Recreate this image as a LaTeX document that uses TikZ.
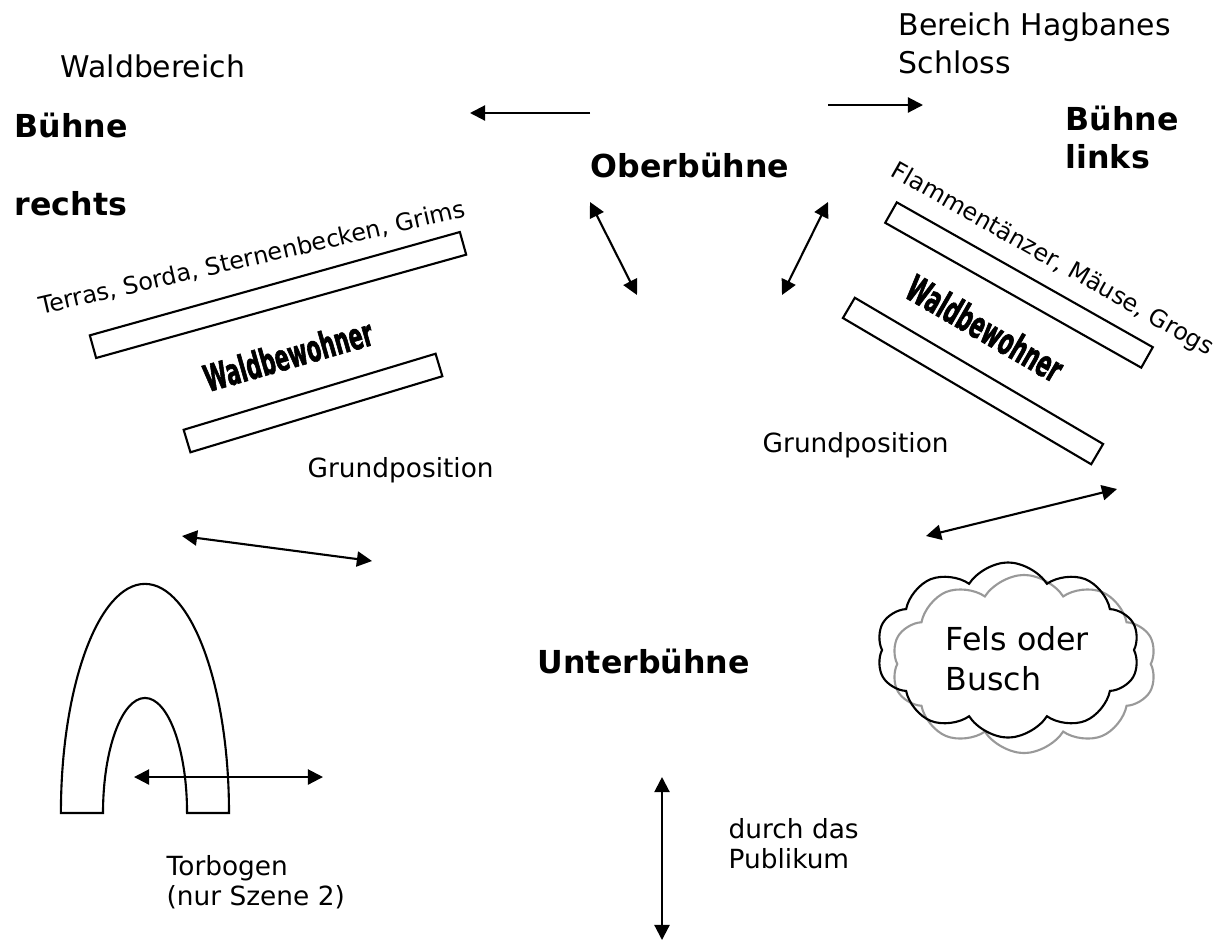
\documentclass[tikz,border=0pt]{standalone}
\usepackage{fontspec}
\setmainfont{DejaVu Sans}
\newfontfamily\woodfont{DejaVu Sans}[FakeStretch=0.56, BoldFeatures={FakeBold=1.5}]
\usetikzlibrary{arrows.meta,shapes.symbols}
\tikzset{
  area/.style={inner sep=0pt, anchor=base west, align=left, font=\fontsize{8.5}{10.8}\selectfont},
  stage/.style={inner sep=0pt, anchor=base west, align=left, font=\fontsize{9}{10.8}\selectfont\bfseries},
  small/.style={inner sep=0pt, anchor=base west, align=left, font=\fontsize{7.5}{8.4}\selectfont},
  cast/.style={inner sep=0pt, font=\fontsize{6.8}{8}\selectfont},
  wood/.style={inner sep=0pt, font=\fontsize{10.5}{12}\woodfont\bfseries},
  bar/.style={draw, line width=0.6pt, inner sep=0pt, minimum height=0.235cm},
  puff/.style={cloud, cloud puffs=10, cloud puff arc=115, cloud ignores aspect, line width=0.6pt, inner sep=0pt},
  go/.style={line width=0.6pt, -{Triangle[length=4.3pt,width=4.3pt]}},
  both/.style={line width=0.6pt, {Triangle[length=4.3pt,width=4.3pt]}-{Triangle[length=4.3pt,width=4.3pt]}}
}
\begin{document}
\begin{tikzpicture}[x=0.01cm,y=-0.01cm]
  \useasboundingbox (0,0) rectangle (1216,942);
  % labels (multi-line ones sit on their last baseline)
  \node[area] (wald) at (60,77) {Waldbereich};
  \node[area] (hagbane) at (898,73) {Bereich Hagbanes\\Schloss};
  \node[stage] (rechts1) at (14,137) {Bühne};
  \node[stage] (rechts2) at (14,215) {rechts};
  \node[stage] (links) at (1065,168) {Bühne\\links};
  \node[stage] (ober) at (590,177) {Oberbühne};
  \node[stage] (unter) at (537,673) {Unterbühne};
  \node[small] (grundL) at (307,477) {Grundposition};
  \node[small] (grundR) at (762,452) {Grundposition};
  \node[small] (tor) at (166,905) {Torbogen\\(nur Szene 2)};
  \node[small] (publikum) at (728,868) {durch das\\Publikum};
  % bars
  \node[bar, minimum width=3.84cm, rotate=15.6] (barL1) at (278,295) {};
  \node[bar, minimum width=2.63cm, rotate=16.8] (barL2) at (313,403) {};
  \node[bar, minimum width=2.94cm, rotate=-29.5] (barR1) at (1019,285) {};
  \node[bar, minimum width=2.88cm, rotate=-30.5] (barR2) at (973,381) {};
  \node[cast, rotate=13] (castL) at (252,258) {Terras, Sorda, Sternenbecken, Grims};
  \node[cast, rotate=-29.5] (castR) at (1052,260) {Flammentänzer, Mäuse, Grogs};
  \node[wood, rotate=16] (woodL) at (288,355) {Waldbewohner};
  \node[wood, rotate=-30] (woodR) at (985,328) {Waldbewohner};
  % cloud
  \node[puff, draw=gray!80, minimum width=2.65cm, minimum height=1.78cm] (busch2) at (1024,664) {};
  \node[puff, draw, minimum width=2.63cm, minimum height=1.75cm] (busch) at (1008,650) {};
  \node[area, font=\fontsize{9}{11.1}\selectfont] (fels) at (945,690) {Fels oder\\Busch};
  % arch
  \draw[line width=0.6pt] (229,813) arc[start angle=0, end angle=180, x radius=0.84cm, y radius=2.29cm]
    -- (103,813) arc[start angle=180, end angle=0, x radius=0.42cm, y radius=1.15cm] -- cycle;
  % arrows
  \coordinate (w1) at (590,113);
  \coordinate (w2) at (470,113);
  \coordinate (h1) at (828,105);
  \coordinate (h2) at (923,105);
  \coordinate (o1) at (590,202);
  \coordinate (o2) at (637,295);
  \coordinate (o3) at (828,202);
  \coordinate (o4) at (782,295);
  \coordinate (m1) at (182,536);
  \coordinate (m2) at (372,561);
  \coordinate (m3) at (926,536);
  \coordinate (m4) at (1117,489);
  \coordinate (t1) at (134,777);
  \coordinate (t2) at (323,777);
  \coordinate (p1) at (662,777);
  \coordinate (p2) at (662,940);
  \draw[go] (w1) -- (w2);
  \draw[go] (h1) -- (h2);
  \draw[both] (o1) -- (o2);
  \draw[both] (o3) -- (o4);
  \draw[both] (m1) -- (m2);
  \draw[both] (m3) -- (m4);
  \draw[both] (t1) -- (t2);
  \draw[both] (p1) -- (p2);
\end{tikzpicture}
\end{document}
